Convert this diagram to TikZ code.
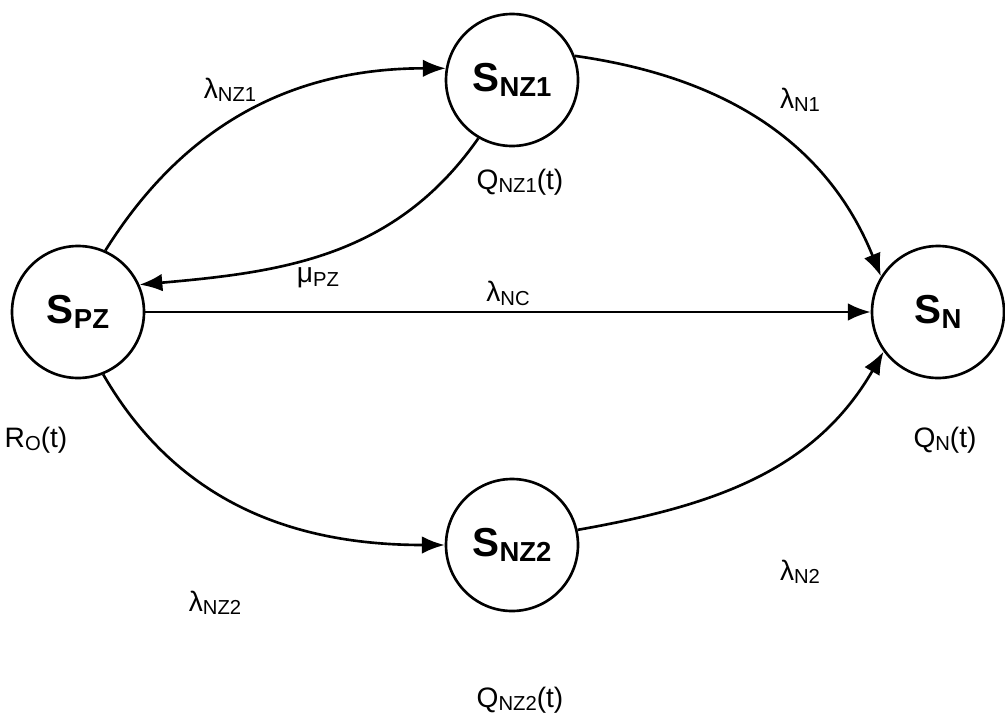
\documentclass[tikz,border=0pt]{standalone}
\usepackage{fontspec}
\setmainfont{Liberation Sans}
\usepackage{tikz}
\usetikzlibrary{arrows.meta, positioning, shapes}
\newcommand{\lo}[2][0.68]{\raisebox{-0.12em}{\scalebox{#1}{#2}}}
\tikzstyle{state} = [draw, circle, line width=1.5pt, minimum size=2.64cm,
	inner sep=0pt, font=\fontsize{23}{27}\selectfont\bfseries]
\tikzstyle{rate} = [font=\fontsize{16}{18}\selectfont, inner sep=1pt]
\tikzstyle{line} = [draw, line width=1.5pt, -{Latex[length=13pt,width=10pt]}]

\begin{document}
\begin{tikzpicture}
		\useasboundingbox (0,0) rectangle (20.1,-14.52);
		\node [state] (spz) at (1.56,-6.24) {S\lo{PZ}};
		\node [state] (snz1) at (10.24,-1.6) {S\lo{NZ1}};
		\node [state] (sn) at (18.76,-6.24) {S\lo{N}};
		\node [state] (snz2) at (10.24,-10.9) {S\lo{NZ2}};

		\path [line] (spz.66) to[out=58, in=180] (snz1.170);
		\path [line] (snz1.21) to[out=-8, in=112] (sn.148);
		\path [line] (snz1.240) to[out=235, in=5] (spz.24);
		\path [line] (spz) -- node [rate, above=2pt] (lnc) {λ\lo[0.72]{NC}} (sn);
		\path [line] (spz.-68) to[out=-60, in=180] (snz2.180);
		\path [line] (snz2.13) to[out=10, in=240] (sn.216);

		\node [rate] (lnz1) at (4.6,-1.8) {λ\lo[0.72]{NZ1}};
		\node [rate] (ln1) at (16.0,-2.0) {λ\lo[0.72]{N1}};
		\node [rate] (mpz) at (6.36,-5.56) {μ\lo[0.72]{PZ}};
		\node [rate] (lnz2) at (4.3,-12.06) {λ\lo[0.72]{NZ2}};
		\node [rate] (ln2) at (16.0,-11.44) {λ\lo[0.72]{N2}};
		\node [rate] (qnz1) at (10.4,-3.64) {Q\lo[0.72]{NZ1}(t)};
		\node [rate] (ro) at (0.72,-8.8) {R\lo[0.72]{O}(t)};
		\node [rate] (qn) at (18.9,-8.8) {Q\lo[0.72]{N}(t)};
		\node [rate] (qnz2) at (10.4,-14.0) {Q\lo[0.72]{NZ2}(t)};
	\end{tikzpicture}
\end{document}
